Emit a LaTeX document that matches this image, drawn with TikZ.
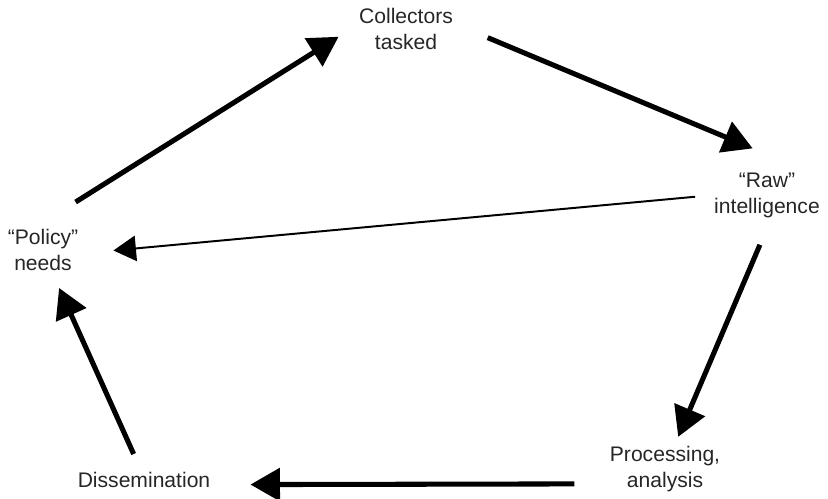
\documentclass[tikz,border=0pt]{standalone}
\usepackage{fontspec}
\setmainfont{Liberation Sans}
\usetikzlibrary{arrows.meta}

\begin{document}
\begin{tikzpicture}[x=0.025cm, y=-0.025cm,
    font=\fontsize{15}{18.5}\selectfont,
    stage/.style={align=center, inner sep=0pt, text=black!85},
    flow/.style={line width=3.6pt, -{Triangle[length=21pt, width=23pt]}},
    back/.style={line width=1.4pt, -{Triangle[length=16pt, width=18pt]}},
  ]
  \useasboundingbox (0,0) rectangle (828,499);

  \node[stage] (coll) at (406,29) {Collectors\\tasked};
  \node[stage] (raw) at (767,195) {“Raw”\\intelligence};
  \node[stage] (policy) at (43,250) {“Policy”\\needs};
  \node[stage] (diss) at (144,480) {Dissemination};
  \node[stage] (proc) at (665,469) {Processing,\\analysis};

  \draw[flow, shorten <=36pt, shorten >=17pt] (policy.116.6) -- (coll.174.3);
  \draw[flow, shorten <=26.6pt, shorten >=44pt] (coll.7.7) -- (raw.28.1);
  \draw[flow, shorten <=20.9pt, shorten >=7pt] (raw.281) -- (proc.68.2);
  \draw[flow, shorten <=25pt, shorten >=28.4pt] (proc.195.3) -- (diss.356.5);
  \draw[flow, shorten <=14pt, shorten >=13.2pt] (diss.106) -- (policy.292);
  \draw[back, shorten <=13.5pt, shorten >=25pt] (raw.west) -- (policy.354.8);
\end{tikzpicture}
\end{document}
